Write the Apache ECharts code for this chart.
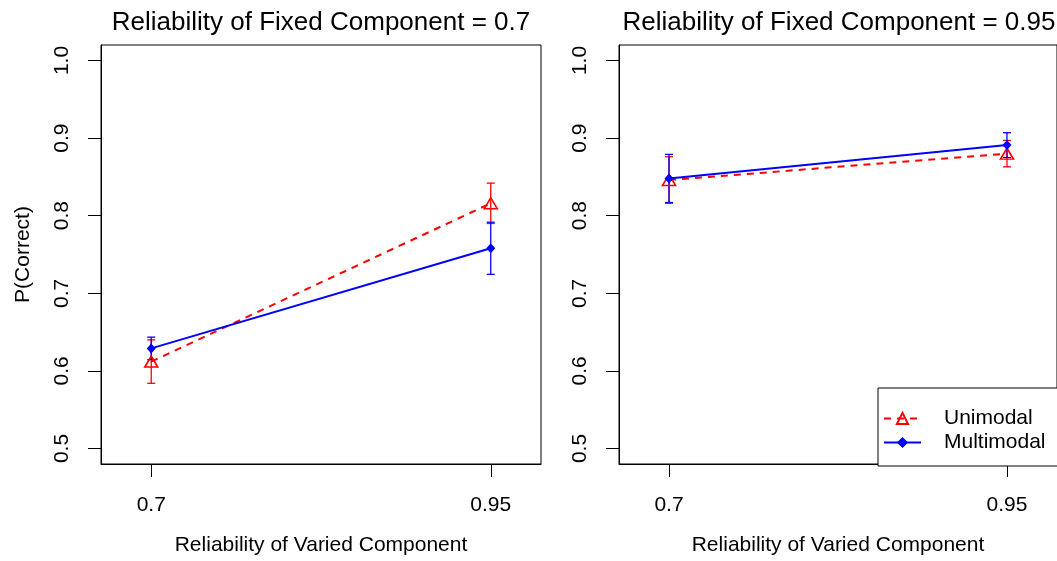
<!DOCTYPE html>
<html><head><meta charset="utf-8">
<script src="https://cdn.jsdelivr.net/npm/echarts@6/dist/echarts.min.js"></script>
<style>html,body{margin:0;padding:0;background:#fff}#c{width:1057px;height:561px}</style>
</head><body><div id="c"></div>
<script>
// ---- data ----
const xValues = [0.7, 0.95];
const yTicks = [0.5, 0.6, 0.7, 0.8, 0.9, 1.0];
const panelTitles = ['Reliability of Fixed Component = 0.7', 'Reliability of Fixed Component = 0.95'];
const seriesNames = ['Unimodal', 'Multimodal'];
const xAxisTitle = 'Reliability of Varied Component';
const yAxisTitle = 'P(Correct)';
// Fixed component = 0.7
const uniLeft = [0.612, 0.816];
const uniLeftErr = [0.028, 0.026];
const multiLeft = [0.629, 0.758];
const multiLeftErr = [0.0145, 0.0336];
// Fixed component = 0.95
const uniRight = [0.846, 0.880];
const uniRightErr = [0.030, 0.017];
const multiRight = [0.848, 0.891];
const multiRightErr = [0.031, 0.016];

const FONT = "'Liberation Sans', Arial, Helvetica, sans-serif";
const RED = '#ff0000', BLUE = '#0000ff';

function pts(ys) { return xValues.map((x, i) => [x, ys[i]]); }
function errs(ys, es) { return xValues.map((x, i) => [x, ys[i] - es[i], ys[i] + es[i]]); }
function errRender(color) {
  return function (params, api) {
    const x = api.value(0), lo = api.value(1), hi = api.value(2);
    const p1 = api.coord([x, lo]), p2 = api.coord([x, hi]);
    const w = 4;
    const st = { stroke: color, lineWidth: 1.3 };
    return { type: 'group', children: [
      { type: 'line', shape: { x1: p1[0], y1: p1[1], x2: p2[0], y2: p2[1] }, style: st },
      { type: 'line', shape: { x1: p1[0] - w, y1: p1[1], x2: p1[0] + w, y2: p1[1] }, style: st },
      { type: 'line', shape: { x1: p2[0] - w, y1: p2[1], x2: p2[0] + w, y2: p2[1] }, style: st }
    ]};
  };
}

const grids = [
  { left: 101, top: 45, width: 440, height: 421, show: true, borderColor: '#000', borderWidth: 1, backgroundColor: 'transparent' },
  { left: 619, top: 45, width: 440, height: 421, show: true, borderColor: '#000', borderWidth: 1, backgroundColor: 'transparent' }
];
function xAxis(gi) {
  return {
    type: 'value', gridIndex: gi, min: 0.663, max: 0.987,
    name: xAxisTitle, nameLocation: 'middle', nameGap: 71,
    nameTextStyle: { fontFamily: FONT, fontSize: 21, color: '#000' },
    axisLine: { show: true, lineStyle: { color: '#000', width: 1 } },
    axisTick: { show: true, length: 13, customValues: xValues, lineStyle: { color: '#000', width: 1 } },
    axisLabel: { customValues: xValues, formatter: v => String(v), margin: 31, fontFamily: FONT, fontSize: 21, color: '#000' },
    splitLine: { show: false }
  };
}
function yAxis(gi) {
  return {
    type: 'value', gridIndex: gi, min: 0.48, max: 1.02,
    name: gi === 0 ? yAxisTitle : '', nameLocation: 'middle', nameGap: 67,
    nameTextStyle: { fontFamily: FONT, fontSize: 21, color: '#000' },
    axisLine: { show: true, lineStyle: { color: '#000', width: 1 } },
    axisTick: { show: true, length: 13, customValues: yTicks, lineStyle: { color: '#000', width: 1 } },
    axisLabel: { customValues: yTicks, rotate: 90, formatter: v => v.toFixed(1), margin: 28, fontFamily: FONT, fontSize: 21, color: '#000' },
    splitLine: { show: false }
  };
}
function uniSeries(gi, ys) {
  return {
    name: seriesNames[0], type: 'line', xAxisIndex: gi, yAxisIndex: gi, data: pts(ys),
    symbol: 'triangle', symbolSize: [13, 11], showSymbol: true,
    lineStyle: { color: RED, width: 2, type: [7, 6] },
    itemStyle: { color: 'rgba(255,255,255,0)', borderColor: RED, borderWidth: 1.6 },
    z: 3
  };
}
function multiSeries(gi, ys) {
  return {
    name: seriesNames[1], type: 'line', xAxisIndex: gi, yAxisIndex: gi, data: pts(ys),
    symbol: 'diamond', symbolSize: [9, 10], showSymbol: true,
    lineStyle: { color: BLUE, width: 2 },
    itemStyle: { color: BLUE, borderWidth: 0 },
    z: 4
  };
}
function errSeries(gi, ys, es, color) {
  return {
    type: 'custom', xAxisIndex: gi, yAxisIndex: gi, data: errs(ys, es),
    encode: { x: 0, y: [1, 2] }, renderItem: errRender(color), z: 2, silent: true
  };
}

const option = {
  animation: false,
  backgroundColor: '#fff',
  title: [
    { text: panelTitles[0], left: 321, top: 10, textAlign: 'center', padding: 0,
      textStyle: { fontFamily: FONT, fontSize: 26, fontWeight: 'normal', color: '#000' } },
    { text: panelTitles[1], left: 839, top: 10, textAlign: 'center', padding: 0,
      textStyle: { fontFamily: FONT, fontSize: 26, fontWeight: 'normal', color: '#000' } }
  ],
  grid: grids,
  xAxis: [xAxis(0), xAxis(1)],
  yAxis: [yAxis(0), yAxis(1)],
  legend: {
    data: seriesNames, orient: 'vertical', left: 878, top: 388,
    itemWidth: 37, itemHeight: 14, itemGap: 3,
    padding: [20, 60, 13, 5],
    backgroundColor: '#fff', borderColor: '#000', borderWidth: 1,
    textStyle: { fontFamily: FONT, fontSize: 21, color: '#000', lineHeight: 21, padding: [0, 0, 0, 18] },
    selectedMode: false
  },
  series: [
    errSeries(0, uniLeft, uniLeftErr, RED),
    uniSeries(0, uniLeft),
    errSeries(0, multiLeft, multiLeftErr, BLUE),
    multiSeries(0, multiLeft),
    errSeries(1, uniRight, uniRightErr, RED),
    uniSeries(1, uniRight),
    errSeries(1, multiRight, multiRightErr, BLUE),
    multiSeries(1, multiRight)
  ]
};
const chart = echarts.init(document.getElementById('c'), null, { renderer: 'canvas' });
chart.setOption(option);
</script>
</body></html>
